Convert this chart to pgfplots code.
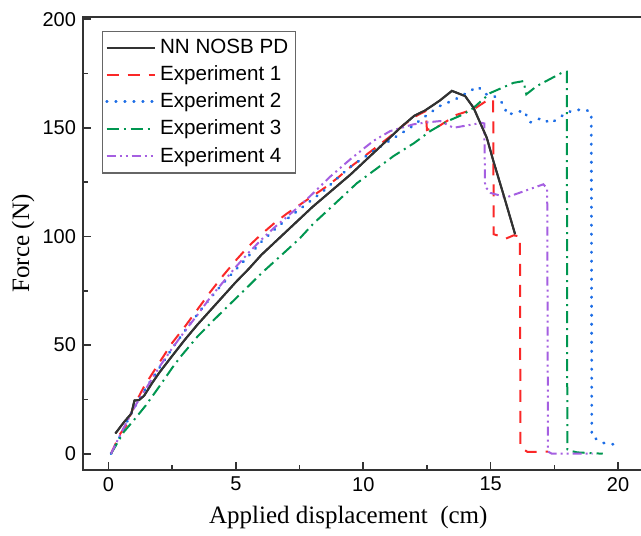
\documentclass[border=0pt]{standalone}
\usepackage{pgfplots}
\pgfplotsset{compat=1.18}
\usepackage{fontspec}
\setmainfont{Liberation Sans}
\newfontfamily\timesf{Liberation Serif}
\definecolor{cblack}{RGB}{50,50,50}
\definecolor{cred}{RGB}{250,40,40}
\definecolor{cblue}{RGB}{30,110,230}
\definecolor{cgreen}{RGB}{0,150,80}
\definecolor{cpurple}{RGB}{165,95,225}
\begin{document}
\begin{tikzpicture}
\begin{axis}[
  scale only axis, width=282.8pt, height=226.5pt,
  xmin=-1, xmax=21.2, ymin=-7.5, ymax=201,
  xtick={0,5,10,15,20}, ytick={0,50,100,150,200},
  minor x tick num=1, minor y tick num=1,
  tick pos=left, tick align=inside,
  major tick length=4pt, minor tick length=2.5pt,
  axis line style={line width=0.9pt, black!80},
  every tick/.style={line width=0.8pt, black!80},
  ticklabel style={font=\fontsize{10}{12}\selectfont},
  /pgf/number format/assume math mode=true,
  xlabel={\timesf Applied displacement\ \ (cm)},
  ylabel={\timesf Force (N)},
  label style={font=\fontsize{12.5}{14}\selectfont},
  xlabel style={at={(axis description cs:0.469,-0.104)}, anchor=center},
  ylabel style={at={(axis description cs:-0.106,0.5)}, anchor=center},
  legend cell align=left,
  legend image code/.code={\draw[#1] (0pt,0pt) -- (24pt,0pt);},
  legend style={at={(0.033,0.97)}, anchor=north west, draw=black!60,
    line width=0.6pt, font=\fontsize{10.3}{12}\selectfont,
    row sep=0.6pt, inner xsep=1.5pt, inner ysep=2pt},
  every axis plot/.append style={line width=1pt},
]
\addplot[cblack, solid] coordinates {(0.27,9.3)(0.6,14.4)(0.9,18.5)(1.02,24.5)(1.2,24.7)(1.4,26.7)(1.7,32.3)(2.0,37.4)(2.5,45)(3.0,52.5)(3.5,59.5)(4.0,66)(4.5,72.5)(5.0,79)(5.5,85)(6.0,91.5)(6.5,97)(7.0,102.5)(7.5,108)(8.0,113.5)(8.5,118.5)(9.0,123.5)(9.5,128.5)(10.0,134)(10.5,139.5)(11.0,145)(11.5,150.5)(12.0,155.5)(12.43,158)(13.0,162.5)(13.48,167)(14.0,164.6)(14.33,159.2)(14.6,152)(14.85,145.4)(15.1,135)(15.5,119.4)(15.96,101)};
\addplot[cred, dash pattern=on 6pt off 4.5pt] coordinates {(0.1,0)(0.45,9)(0.7,13)(1.0,22)(1.4,31)(2.0,42)(2.5,51)(3.0,58.5)(3.5,66.5)(4.0,74.5)(4.5,82)(5.0,89)(5.5,95.5)(6.0,101)(6.5,106)(7.0,110.5)(7.5,114.5)(8.0,118.5)(8.5,122.5)(9.0,127)(9.5,132)(10.0,136.5)(10.5,141)(11.0,145.5)(11.5,150.5)(12.0,155)(12.45,157.7)(12.5,149)(13.0,151)(13.67,156)(14.33,158.5)(14.85,162.5)(15.1,163)(15.12,101)(15.4,100)(15.6,99)(15.9,100.5)(16.15,100)(16.17,3)(16.45,0.8)(17.25,1)};
\addplot[cblue, line cap=round, dash pattern=on 0.3pt off 4.2pt, line width=1.4pt] coordinates {(0.1,0)(0.5,9)(0.86,18)(1.4,29)(2.0,39.5)(2.5,48.5)(3.09,58)(3.74,68)(4.46,78)(5.18,87)(5.5,91)(6.0,97.5)(6.5,103)(7.0,108)(7.5,112.5)(8.0,117)(8.5,121.5)(9.0,127)(9.49,132)(10.4,139.3)(11.32,146.2)(11.84,150)(12.4,155)(13.0,160)(13.6,163)(14.2,167)(14.5,169)(14.8,165.5)(15.1,165)(15.5,161)(15.65,156)(16.3,158)(16.55,152.5)(17.0,154.5)(17.35,152)(17.8,155.5)(18.2,158)(18.7,158.5)(18.95,157)(18.97,8)(19.4,5)(20.0,4)};
\addplot[cgreen, dash pattern=on 6pt off 2.5pt on 1pt off 2.5pt] coordinates {(0.1,0)(0.6,10)(1.0,15.5)(1.45,22)(2.0,31)(2.5,39.5)(2.82,44.5)(3.5,54)(4.13,61.5)(5.0,71.5)(5.44,76.5)(6.0,83)(6.75,91)(7.5,99)(8.05,106)(8.7,113)(9.75,124.5)(10.5,131)(11.19,137)(12.0,143)(12.63,148.5)(13.3,153)(13.93,156.2)(14.33,159.2)(14.98,166)(15.9,170.7)(16.29,171.5)(16.4,165.4)(16.81,169.2)(17.79,175.3)(17.99,175.8)(18.01,2)(18.1,1.4)(18.4,0.6)(19.4,0)};
\addplot[cpurple, dash pattern=on 4.5pt off 2pt on 1pt off 2pt on 1pt off 2pt] coordinates {(0.1,0)(0.35,6)(0.6,12)(1.1,23)(1.5,30.5)(2.0,40)(2.5,48.5)(3.0,56.5)(3.5,64)(4.0,72)(4.5,79)(5.0,86)(5.5,92.5)(6.0,98.5)(6.5,104)(7.0,109)(7.5,114)(8.0,119.5)(8.7,127.5)(9.49,135.5)(10.4,144)(11.06,148.5)(11.97,151.6)(12.5,152.5)(13.02,153.1)(13.54,150)(13.93,150.8)(14.65,152.3)(14.75,152)(14.78,123)(15.0,120)(15.63,118)(17.07,124)(17.22,122)(17.25,1)(17.4,0)(19.0,0)};
% black curve again on top
\addplot[cblack, solid, forget plot] coordinates {(0.27,9.3)(0.6,14.4)(0.9,18.5)(1.02,24.5)(1.2,24.7)(1.4,26.7)(1.7,32.3)(2.0,37.4)(2.5,45)(3.0,52.5)(3.5,59.5)(4.0,66)(4.5,72.5)(5.0,79)(5.5,85)(6.0,91.5)(6.5,97)(7.0,102.5)(7.5,108)(8.0,113.5)(8.5,118.5)(9.0,123.5)(9.5,128.5)(10.0,134)(10.5,139.5)(11.0,145)(11.5,150.5)(12.0,155.5)(12.43,158)(13.0,162.5)(13.48,167)(14.0,164.6)(14.33,159.2)(14.6,152)(14.85,145.4)(15.1,135)(15.5,119.4)(15.96,101)};
\legend{NN NOSB PD, Experiment 1, Experiment 2, Experiment 3, Experiment 4}
\end{axis}
\pgfresetboundingbox
\path ([xshift=-41.5pt,yshift=-32.5pt]current axis.south west) rectangle ([xshift=-3.8pt,yshift=8.5pt]current axis.north east);
\end{tikzpicture}
\end{document}
